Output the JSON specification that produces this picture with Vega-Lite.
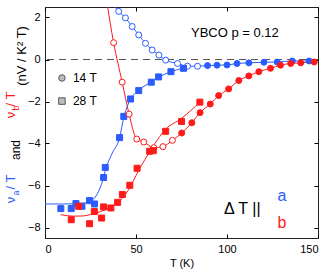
{
  "$schema": "https://vega.github.io/schema/vega-lite/v6.json",
  "autosize": {"type": "none"},
  "width": 273,
  "height": 231,
  "padding": {"left": 45, "top": 7, "right": 14, "bottom": 34},
  "config": {
    "font": "Liberation Sans",
    "view": {"stroke": "#222", "strokeWidth": 1},
    "axis": {"grid": false, "domain": false, "tickColor": "black", "labelColor": "black", "titleColor": "black", "labelFontSize": 11, "titleFontSize": 11, "titleFontWeight": "normal", "tickSize": -4, "labelPadding": 9}
  },
  "datasets": {
    "one": [{}],
    "pts": [
      {"dir": "a", "B": "14 T", "kind": "open", "T": 36, "v": 2.75},
      {"dir": "a", "B": "14 T", "kind": "open", "T": 40.5, "v": 2.29},
      {"dir": "a", "B": "14 T", "kind": "open", "T": 44.2, "v": 1.98},
      {"dir": "a", "B": "14 T", "kind": "open", "T": 47.9, "v": 1.57},
      {"dir": "a", "B": "14 T", "kind": "open", "T": 51.5, "v": 1.17},
      {"dir": "a", "B": "14 T", "kind": "open", "T": 55.2, "v": 0.77},
      {"dir": "a", "B": "14 T", "kind": "open", "T": 58.9, "v": 0.45},
      {"dir": "a", "B": "14 T", "kind": "open", "T": 62.6, "v": 0.21},
      {"dir": "a", "B": "14 T", "kind": "open", "T": 66.3, "v": -0.03},
      {"dir": "a", "B": "14 T", "kind": "open", "T": 72.8, "v": -0.19},
      {"dir": "a", "B": "14 T", "kind": "open", "T": 78.3, "v": -0.32},
      {"dir": "a", "B": "14 T", "kind": "open", "T": 83.8, "v": -0.32},
      {"dir": "a", "B": "14 T", "kind": "solid", "T": 89.3, "v": -0.29},
      {"dir": "a", "B": "14 T", "kind": "solid", "T": 94.5, "v": -0.27},
      {"dir": "a", "B": "14 T", "kind": "solid", "T": 100, "v": -0.26},
      {"dir": "a", "B": "14 T", "kind": "solid", "T": 105.5, "v": -0.19},
      {"dir": "a", "B": "14 T", "kind": "solid", "T": 112, "v": -0.16},
      {"dir": "a", "B": "14 T", "kind": "solid", "T": 120.3, "v": -0.13},
      {"dir": "a", "B": "14 T", "kind": "solid", "T": 127.6, "v": -0.12},
      {"dir": "a", "B": "14 T", "kind": "solid", "T": 135.9, "v": -0.07},
      {"dir": "a", "B": "14 T", "kind": "solid", "T": 145.1, "v": -0.07},
      {"dir": "a", "B": "28 T", "kind": "solid", "T": 8.7, "v": -7.1},
      {"dir": "a", "B": "28 T", "kind": "solid", "T": 14.4, "v": -7.1},
      {"dir": "a", "B": "28 T", "kind": "solid", "T": 17, "v": -6.86},
      {"dir": "a", "B": "28 T", "kind": "solid", "T": 20.3, "v": -6.99},
      {"dir": "a", "B": "28 T", "kind": "solid", "T": 24.5, "v": -6.72},
      {"dir": "a", "B": "28 T", "kind": "solid", "T": 27.2, "v": -6.88},
      {"dir": "a", "B": "28 T", "kind": "solid", "T": 32.2, "v": -5.62},
      {"dir": "a", "B": "28 T", "kind": "solid", "T": 33.1, "v": -5.14},
      {"dir": "a", "B": "28 T", "kind": "solid", "T": 41, "v": -3.72},
      {"dir": "a", "B": "28 T", "kind": "solid", "T": 43.3, "v": -2.71},
      {"dir": "a", "B": "28 T", "kind": "solid", "T": 47, "v": -1.88},
      {"dir": "a", "B": "28 T", "kind": "solid", "T": 51.5, "v": -1.48},
      {"dir": "a", "B": "28 T", "kind": "solid", "T": 58.4, "v": -1.08},
      {"dir": "a", "B": "28 T", "kind": "solid", "T": 62.4, "v": -0.83},
      {"dir": "a", "B": "28 T", "kind": "solid", "T": 69.2, "v": -0.58},
      {"dir": "a", "B": "28 T", "kind": "solid", "T": 76.1, "v": -0.42},
      {"dir": "b", "B": "14 T", "kind": "open", "T": 33.7, "v": 2.9},
      {"dir": "b", "B": "14 T", "kind": "open", "T": 37.7, "v": 0.8},
      {"dir": "b", "B": "14 T", "kind": "open", "T": 42.4, "v": -1.08},
      {"dir": "b", "B": "14 T", "kind": "open", "T": 46.2, "v": -2.6},
      {"dir": "b", "B": "14 T", "kind": "open", "T": 50.4, "v": -3.79},
      {"dir": "b", "B": "14 T", "kind": "open", "T": 54.3, "v": -3.93},
      {"dir": "b", "B": "14 T", "kind": "open", "T": 59.8, "v": -4.2},
      {"dir": "b", "B": "14 T", "kind": "open", "T": 64.8, "v": -4.15},
      {"dir": "b", "B": "14 T", "kind": "open", "T": 70, "v": -3.85},
      {"dir": "b", "B": "14 T", "kind": "solid", "T": 75.1, "v": -3.5},
      {"dir": "b", "B": "14 T", "kind": "solid", "T": 80.7, "v": -3.01},
      {"dir": "b", "B": "14 T", "kind": "solid", "T": 85.2, "v": -2.53},
      {"dir": "b", "B": "14 T", "kind": "solid", "T": 90.8, "v": -2.12},
      {"dir": "b", "B": "14 T", "kind": "solid", "T": 95.4, "v": -1.72},
      {"dir": "b", "B": "14 T", "kind": "solid", "T": 100.9, "v": -1.4},
      {"dir": "b", "B": "14 T", "kind": "solid", "T": 106.5, "v": -1.0},
      {"dir": "b", "B": "14 T", "kind": "solid", "T": 112, "v": -0.78},
      {"dir": "b", "B": "14 T", "kind": "solid", "T": 117.5, "v": -0.58},
      {"dir": "b", "B": "14 T", "kind": "solid", "T": 123.9, "v": -0.42},
      {"dir": "b", "B": "14 T", "kind": "solid", "T": 129.4, "v": -0.27},
      {"dir": "b", "B": "14 T", "kind": "solid", "T": 135, "v": -0.19},
      {"dir": "b", "B": "14 T", "kind": "solid", "T": 140.5, "v": -0.16},
      {"dir": "b", "B": "14 T", "kind": "solid", "T": 147.9, "v": -0.12},
      {"dir": "b", "B": "28 T", "kind": "solid", "T": 14.4, "v": -7.63},
      {"dir": "b", "B": "28 T", "kind": "solid", "T": 18.5, "v": -6.99},
      {"dir": "b", "B": "28 T", "kind": "solid", "T": 24.5, "v": -7.82},
      {"dir": "b", "B": "28 T", "kind": "solid", "T": 27.1, "v": -7.24},
      {"dir": "b", "B": "28 T", "kind": "solid", "T": 31.1, "v": -7.55},
      {"dir": "b", "B": "28 T", "kind": "solid", "T": 32.2, "v": -7.02},
      {"dir": "b", "B": "28 T", "kind": "solid", "T": 36.2, "v": -7.07},
      {"dir": "b", "B": "28 T", "kind": "solid", "T": 39.9, "v": -6.8},
      {"dir": "b", "B": "28 T", "kind": "solid", "T": 42.5, "v": -6.43},
      {"dir": "b", "B": "28 T", "kind": "solid", "T": 46.6, "v": -5.99},
      {"dir": "b", "B": "28 T", "kind": "solid", "T": 50.6, "v": -5.18},
      {"dir": "b", "B": "28 T", "kind": "solid", "T": 57.5, "v": -4.37},
      {"dir": "b", "B": "28 T", "kind": "solid", "T": 59.5, "v": -4.34},
      {"dir": "b", "B": "28 T", "kind": "solid", "T": 66.3, "v": -3.42},
      {"dir": "b", "B": "28 T", "kind": "solid", "T": 75, "v": -2.95},
      {"dir": "b", "B": "28 T", "kind": "solid", "T": 85.1, "v": -2.03}
    ],
    "fits": [
      {"dir": "a", "T": 0, "v": -6.88},
      {"dir": "a", "T": 10, "v": -6.88},
      {"dir": "a", "T": 20, "v": -6.85},
      {"dir": "a", "T": 25, "v": -6.75},
      {"dir": "a", "T": 28, "v": -6.5},
      {"dir": "a", "T": 31, "v": -5.95},
      {"dir": "a", "T": 34, "v": -5.05},
      {"dir": "a", "T": 37, "v": -4.45},
      {"dir": "a", "T": 41, "v": -3.72},
      {"dir": "a", "T": 43.3, "v": -2.75},
      {"dir": "a", "T": 47, "v": -1.9},
      {"dir": "a", "T": 51.5, "v": -1.46},
      {"dir": "a", "T": 58.4, "v": -1.07},
      {"dir": "a", "T": 62.4, "v": -0.85},
      {"dir": "a", "T": 69.2, "v": -0.58},
      {"dir": "a", "T": 76.1, "v": -0.41},
      {"dir": "a", "T": 80, "v": -0.34},
      {"dir": "b", "T": 8.6, "v": -7.39},
      {"dir": "b", "T": 15.7, "v": -7.46},
      {"dir": "b", "T": 21, "v": -7.45},
      {"dir": "b", "T": 25, "v": -7.38},
      {"dir": "b", "T": 30.4, "v": -7.25},
      {"dir": "b", "T": 36, "v": -7.03},
      {"dir": "b", "T": 41.4, "v": -6.7},
      {"dir": "b", "T": 47, "v": -6.05},
      {"dir": "b", "T": 51, "v": -5.35},
      {"dir": "b", "T": 55, "v": -4.75},
      {"dir": "b", "T": 60, "v": -4.05},
      {"dir": "b", "T": 66, "v": -3.35},
      {"dir": "b", "T": 75, "v": -2.8},
      {"dir": "b", "T": 85, "v": -2.05}
    ],
    "legend": [
      {"B": "14 T", "T": 9.3, "v": -0.88},
      {"B": "28 T", "T": 9.3, "v": -1.98}
    ]
  },
  "layer": [
    {
      "data": {"name": "one"},
      "mark": {"type": "rule", "strokeDash": [7, 5], "color": "#555", "strokeWidth": 1},
      "encoding": {
        "y": {"datum": 0, "type": "quantitative", "scale": {"domain": [-8.5, 2.5], "nice": false}, "axis": null}
      }
    },
    {
      "data": {"name": "one"},
      "mark": {"type": "point", "opacity": 0},
      "encoding": {
        "x": {"datum": 0, "type": "quantitative", "scale": {"domain": [0, 150], "nice": false}, "axis": {"orient": "top", "values": [0, 50, 100, 150], "labels": false, "title": null}},
        "y": {"datum": 0, "type": "quantitative", "scale": {"domain": [-8.5, 2.5], "nice": false}, "axis": {"orient": "right", "values": [-8, -6, -4, -2, 0, 2], "labels": false, "title": null}}
      }
    },
    {
      "data": {"name": "pts"},
      "transform": [{"filter": "datum.B == '14 T'"}],
      "mark": {"type": "line", "interpolate": "monotone", "strokeWidth": 1, "clip": true},
      "encoding": {
        "x": {"field": "T", "type": "quantitative", "scale": {"domain": [0, 150], "nice": false}, "axis": {"orient": "bottom", "values": [0, 50, 100, 150], "title": "T (K)", "titlePadding": 3}},
        "y": {"field": "v", "type": "quantitative", "scale": {"domain": [-8.5, 2.5], "nice": false}, "axis": {"orient": "left", "values": [-8, -6, -4, -2, 0, 2], "title": null}},
        "color": {"field": "dir", "type": "nominal", "scale": {"domain": ["a", "b"], "range": ["#2a5cff", "#ff1a1a"]}, "legend": null}
      }
    },
    {
      "data": {"name": "fits"},
      "mark": {"type": "line", "interpolate": "monotone", "strokeWidth": 1, "clip": true},
      "encoding": {
        "x": {"field": "T", "type": "quantitative", "scale": {"domain": [0, 150], "nice": false}, "axis": null},
        "y": {"field": "v", "type": "quantitative", "scale": {"domain": [-8.5, 2.5], "nice": false}, "axis": null},
        "color": {"field": "dir", "type": "nominal", "scale": {"domain": ["a", "b"], "range": ["#2a5cff", "#ff1a1a"]}, "legend": null}
      }
    },
    {
      "data": {"name": "pts"},
      "mark": {"type": "point", "size": 36, "strokeWidth": 1, "opacity": 1, "filled": true, "clip": true},
      "encoding": {
        "x": {"field": "T", "type": "quantitative", "scale": {"domain": [0, 150], "nice": false}, "axis": null},
        "y": {"field": "v", "type": "quantitative", "scale": {"domain": [-8.5, 2.5], "nice": false}, "axis": null},
        "shape": {"field": "B", "type": "nominal", "scale": {"domain": ["14 T", "28 T"], "range": ["circle", "square"]}, "legend": null},
        "fill": {"condition": {"test": "datum.kind == 'open'", "value": "white"}, "field": "dir", "type": "nominal", "scale": {"domain": ["a", "b"], "range": ["#2a5cff", "#ff1a1a"]}, "legend": null},
        "stroke": {"field": "dir", "type": "nominal", "scale": {"domain": ["a", "b"], "range": ["#2a5cff", "#ff1a1a"]}, "legend": null}
      }
    },
    {
      "data": {"name": "legend"},
      "mark": {"type": "point", "size": 42, "strokeWidth": 1, "opacity": 1, "filled": true, "fill": "#bdbdbd", "stroke": "#555"},
      "encoding": {
        "x": {"field": "T", "type": "quantitative", "scale": {"domain": [0, 150], "nice": false}, "axis": null},
        "y": {"field": "v", "type": "quantitative", "scale": {"domain": [-8.5, 2.5], "nice": false}, "axis": null},
        "shape": {"field": "B", "type": "nominal", "scale": {"domain": ["14 T", "28 T"], "range": ["circle", "square"]}, "legend": null}
      }
    },
    {
      "data": {"name": "legend"},
      "mark": {"type": "text", "fontSize": 12, "align": "left", "baseline": "middle", "color": "black", "dx": 11},
      "encoding": {
        "x": {"field": "T", "type": "quantitative", "scale": {"domain": [0, 150], "nice": false}, "axis": null},
        "y": {"field": "v", "type": "quantitative", "scale": {"domain": [-8.5, 2.5], "nice": false}, "axis": null},
        "text": {"field": "B"}
      }
    },
    {
      "data": {"name": "one"},
      "mark": {"type": "text", "fontSize": 13, "align": "left", "baseline": "alphabetic", "color": "black"},
      "encoding": {
        "x": {"datum": 80.2, "type": "quantitative", "scale": {"domain": [0, 150], "nice": false}, "axis": null},
        "y": {"datum": 1.07, "type": "quantitative", "scale": {"domain": [-8.5, 2.5], "nice": false}, "axis": null},
        "text": {"value": "YBCO p = 0.12"}
      }
    },
    {
      "data": {"name": "one"},
      "mark": {"type": "text", "fontSize": 16, "align": "left", "baseline": "alphabetic", "color": "black"},
      "encoding": {
        "x": {"datum": 98.4, "type": "quantitative", "scale": {"domain": [0, 150], "nice": false}, "axis": null},
        "y": {"datum": -7.36, "type": "quantitative", "scale": {"domain": [-8.5, 2.5], "nice": false}, "axis": null},
        "text": {"value": "Δ T  ||"}
      }
    },
    {
      "data": {"name": "one"},
      "mark": {"type": "text", "fontSize": 16, "align": "center", "baseline": "alphabetic", "color": "#2a5cff"},
      "encoding": {
        "x": {"datum": 130.2, "type": "quantitative", "scale": {"domain": [0, 150], "nice": false}, "axis": null},
        "y": {"datum": -6.74, "type": "quantitative", "scale": {"domain": [-8.5, 2.5], "nice": false}, "axis": null},
        "text": {"value": "a"}
      }
    },
    {
      "data": {"name": "one"},
      "mark": {"type": "text", "fontSize": 16, "align": "center", "baseline": "alphabetic", "color": "#ff1a1a"},
      "encoding": {
        "x": {"datum": 130.2, "type": "quantitative", "scale": {"domain": [0, 150], "nice": false}, "axis": null},
        "y": {"datum": -8.02, "type": "quantitative", "scale": {"domain": [-8.5, 2.5], "nice": false}, "axis": null},
        "text": {"value": "b"}
      }
    },
    {
      "data": {"name": "one"},
      "mark": {"type": "text", "fontSize": 13, "angle": 270, "align": "center", "baseline": "middle", "color": "#2a5cff"},
      "encoding": {
        "x": {"datum": -18.9, "type": "quantitative", "scale": {"domain": [0, 150], "nice": false}, "axis": null},
        "y": {"datum": -6.69, "type": "quantitative", "scale": {"domain": [-8.5, 2.5], "nice": false}, "axis": null},
        "text": {"value": "ν"}
      }
    },
    {
      "data": {"name": "one"},
      "mark": {"type": "text", "fontSize": 9, "angle": 270, "align": "center", "baseline": "middle", "color": "#2a5cff"},
      "encoding": {
        "x": {"datum": -16.0, "type": "quantitative", "scale": {"domain": [0, 150], "nice": false}, "axis": null},
        "y": {"datum": -6.36, "type": "quantitative", "scale": {"domain": [-8.5, 2.5], "nice": false}, "axis": null},
        "text": {"value": "a"}
      }
    },
    {
      "data": {"name": "one"},
      "mark": {"type": "text", "fontSize": 13, "angle": 270, "align": "center", "baseline": "middle", "color": "#2a5cff"},
      "encoding": {
        "x": {"datum": -18.9, "type": "quantitative", "scale": {"domain": [0, 150], "nice": false}, "axis": null},
        "y": {"datum": -5.83, "type": "quantitative", "scale": {"domain": [-8.5, 2.5], "nice": false}, "axis": null},
        "text": {"value": "/ T"}
      }
    },
    {
      "data": {"name": "one"},
      "mark": {"type": "text", "fontSize": 12, "angle": 270, "align": "center", "baseline": "middle", "color": "black"},
      "encoding": {
        "x": {"datum": -16.0, "type": "quantitative", "scale": {"domain": [0, 150], "nice": false}, "axis": null},
        "y": {"datum": -4.31, "type": "quantitative", "scale": {"domain": [-8.5, 2.5], "nice": false}, "axis": null},
        "text": {"value": "and"}
      }
    },
    {
      "data": {"name": "one"},
      "mark": {"type": "text", "fontSize": 13, "angle": 270, "align": "center", "baseline": "middle", "color": "#ff1a1a"},
      "encoding": {
        "x": {"datum": -18.9, "type": "quantitative", "scale": {"domain": [0, 150], "nice": false}, "axis": null},
        "y": {"datum": -2.64, "type": "quantitative", "scale": {"domain": [-8.5, 2.5], "nice": false}, "axis": null},
        "text": {"value": "ν"}
      }
    },
    {
      "data": {"name": "one"},
      "mark": {"type": "text", "fontSize": 9, "angle": 270, "align": "center", "baseline": "middle", "color": "#ff1a1a"},
      "encoding": {
        "x": {"datum": -16.0, "type": "quantitative", "scale": {"domain": [0, 150], "nice": false}, "axis": null},
        "y": {"datum": -2.31, "type": "quantitative", "scale": {"domain": [-8.5, 2.5], "nice": false}, "axis": null},
        "text": {"value": "b"}
      }
    },
    {
      "data": {"name": "one"},
      "mark": {"type": "text", "fontSize": 13, "angle": 270, "align": "center", "baseline": "middle", "color": "#ff1a1a"},
      "encoding": {
        "x": {"datum": -18.9, "type": "quantitative", "scale": {"domain": [0, 150], "nice": false}, "axis": null},
        "y": {"datum": -1.88, "type": "quantitative", "scale": {"domain": [-8.5, 2.5], "nice": false}, "axis": null},
        "text": {"value": "/ T"}
      }
    },
    {
      "data": {"name": "one"},
      "mark": {"type": "text", "fontSize": 13, "angle": 270, "align": "center", "baseline": "middle", "color": "black"},
      "encoding": {
        "x": {"datum": -12.9, "type": "quantitative", "scale": {"domain": [0, 150], "nice": false}, "axis": null},
        "y": {"datum": 0.17, "type": "quantitative", "scale": {"domain": [-8.5, 2.5], "nice": false}, "axis": null},
        "text": {"value": "(nV / K² T)"}
      }
    }
  ],
  "resolve": {"axis": {"x": "independent", "y": "independent"}}
}
